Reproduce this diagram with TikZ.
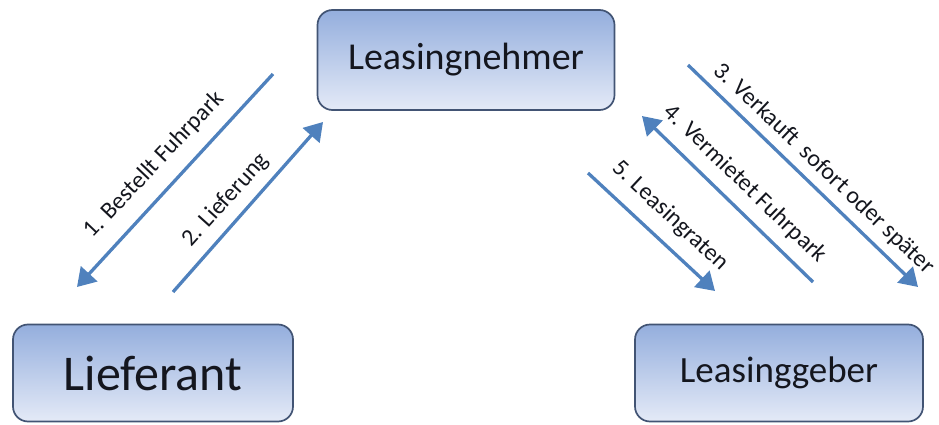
\documentclass[tikz,border=0pt]{standalone}
\usepackage{fontspec}
\setmainfont{Carlito}
\usetikzlibrary{arrows.meta}
\definecolor{flowblue}{RGB}{79,129,189}
\definecolor{boxedge}{RGB}{66,84,116}
\definecolor{boxtop}{RGB}{148,174,221}
\definecolor{boxbottom}{RGB}{228,234,247}
\definecolor{ink}{RGB}{20,22,30}
\begin{document}
\begin{tikzpicture}[x=1pt,y=-1pt,
  party/.style={draw=boxedge, line width=1.7pt, rounded corners=15pt,
    top color=boxtop, bottom color=boxbottom, text=ink, inner sep=0pt},
  flow/.style={draw=flowblue, line width=3.3pt,
    -{Triangle[length=18pt,width=22pt]}},
  flowlabel/.style={font=\fontsize{24}{26}\selectfont, text=ink, inner sep=0pt}]
\useasboundingbox (0,0) rectangle (939,425);

% parties
\node[party, minimum width=297pt, minimum height=100pt,
  font=\fontsize{38}{40}\selectfont] (nehmer) at (466,60) {Leasingnehmer};
\node[party, minimum width=280pt, minimum height=97pt,
  font=\fontsize{50}{52}\selectfont] (lieferant) at (153,373) {Lieferant};
\node[party, minimum width=288pt, minimum height=97pt,
  font=\fontsize{37}{39}\selectfont] (geber) at (779,373) {Leasinggeber};

% arrow end points
\coordinate (a1s) at (273,74);  \coordinate (a1e) at (77,287);
\coordinate (a2s) at (173,292); \coordinate (a2e) at (323,122);
\coordinate (a3s) at (688,65);  \coordinate (a3e) at (918,287);
\coordinate (a4s) at (813,282); \coordinate (a4e) at (642,116);
\coordinate (a5s) at (588,173); \coordinate (a5e) at (715,291);

% flows
\draw[flow] (a1s) -- (a1e);
\draw[flow] (a2s) -- (a2e);
\draw[flow] (a3s) -- (a3e);
\draw[flow] (a4s) -- (a4e);
\draw[flow] (a5s) -- (a5e);

% flow labels
\node[flowlabel, rotate=46.5] (l1) at (154,165) {1. Bestellt Fuhrpark};
\node[flowlabel, rotate=48] (l2) at (226,200) {2. Lieferung};
\node[flowlabel, rotate=-43.5] (l3) at (824,169) {3. Verkauft\ \ sofort oder später};
\node[flowlabel, rotate=-44] (l4) at (745,184) {4. Vermietet Fuhrpark};
\node[flowlabel, rotate=-43] (l5) at (670,216) {5. Leasingraten};
\end{tikzpicture}
\end{document}
